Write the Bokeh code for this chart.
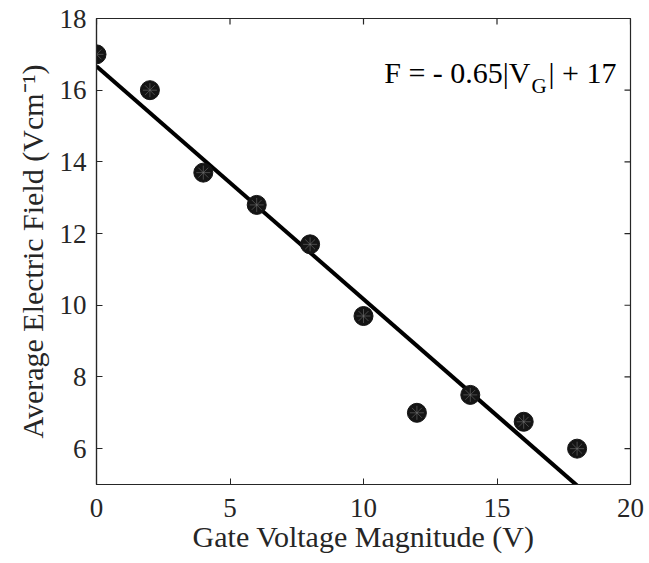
import math
from bokeh.plotting import figure
from bokeh.models import Label, FixedTicker, Range1d
from bokeh.embed import file_html
from bokeh.resources import INLINE

# data
gate_voltage = [0, 2, 4, 6, 8, 10, 12, 14, 16, 18]
field = [17.0, 16.0, 13.7, 12.8, 11.7, 9.7, 7.0, 7.5, 6.75, 6.0]
fit_slope = -0.65
fit_intercept = 16.67
fit_x = [0, 18]
fit_y = [fit_intercept + fit_slope * v for v in fit_x]
x_ticks = [0, 5, 10, 15, 20]
y_ticks = [6, 8, 10, 12, 14, 16, 18]
x_lim = (0, 20)
y_lim = (5, 18)

FONT = "Liberation Serif"
AX = "#262626"

p = figure(width=649, height=563, output_backend="svg", toolbar_location=None,
           x_range=Range1d(*x_lim), y_range=Range1d(*y_lim),
           min_border_left=96, min_border_right=19, min_border_top=18, min_border_bottom=79)
p.background_fill_color = "white"
p.border_fill_color = "white"
p.outline_line_color = AX
p.outline_line_width = 1.2
p.grid.visible = False

p.xaxis.ticker = FixedTicker(ticks=x_ticks)
p.yaxis.ticker = FixedTicker(ticks=y_ticks)
for ax in (p.xaxis[0], p.yaxis[0]):
    ax.axis_line_color = AX
    ax.axis_line_width = 1.2
    ax.major_tick_line_color = AX
    ax.major_tick_in = 6
    ax.major_tick_out = 0
    ax.minor_tick_line_color = None
    ax.major_label_text_font = FONT
    ax.major_label_text_font_size = "27px"
    ax.major_label_text_color = "#262626"
    ax.axis_label_text_font = FONT
    ax.axis_label_text_font_size = "30px"
    ax.axis_label_text_font_style = "normal"
    ax.axis_label_text_color = "#262626"
p.xaxis.major_label_standoff = 14
p.yaxis.major_label_standoff = 10
p.xaxis.axis_label = "Gate Voltage Magnitude (V)"
p.xaxis.axis_label_standoff = 0
p.yaxis.axis_label = "Average Electric Field (Vcm\u207b\u00b9)"
p.yaxis.axis_label_standoff = 8

# ticks on the top and right edges of the box (half of each dash is clipped away)
p.scatter(x_ticks, [y_lim[1]] * len(x_ticks), marker="dash", angle=math.pi / 2,
          size=12, line_color=AX, line_width=1.2)
p.scatter([x_lim[1]] * len(y_ticks), y_ticks, marker="dash",
          size=12, line_color=AX, line_width=1.2)

p.line(fit_x, fit_y, line_color="black", line_width=4)
p.scatter(gate_voltage, field, size=19, fill_color="#141414", line_color="#141414", marker="circle")
p.scatter(gate_voltage, field, size=14, line_color="#707070", line_width=0.6, marker="asterisk")

# equation
common = dict(x=x_lim[1], y=y_lim[1], text_font=FONT, text_color="black",
              text_baseline="alphabetic")
p.add_layout(Label(text="F = - 0.65|V", text_align="right", x_offset=-100, y_offset=-54,
                   text_font_size="30px", **common))
p.add_layout(Label(text="G", text_align="left", x_offset=-99, y_offset=-67,
                   text_font_size="21px", **common))
p.add_layout(Label(text="| + 17", text_align="left", x_offset=-82, y_offset=-54,
                   text_font_size="30px", **common))

open("out.html", "w").write(file_html(p, INLINE))
